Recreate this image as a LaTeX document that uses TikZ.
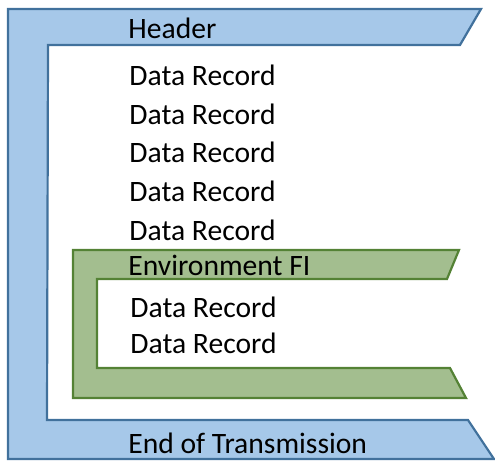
\documentclass[tikz,border=0pt]{standalone}
\usepackage{fontspec}
\setmainfont{Carlito}
\usetikzlibrary{positioning}

\definecolor{framefill}{RGB}{166,200,233}
\definecolor{framedraw}{RGB}{65,113,156}
\definecolor{envfill}{RGB}{163,190,143}
\definecolor{envdraw}{RGB}{84,130,53}

\tikzset{
	transframe/.style={fill=framefill, draw=framedraw, line width=1.1pt, line join=miter},
	envframe/.style={fill=envfill, draw=envdraw, line width=1.1pt, line join=miter},
	rectext/.style={anchor=base west, inner sep=0pt, font=\fontsize{14.8}{17}\selectfont}
}

\begin{document}
\begin{tikzpicture}[x=0.5pt, y=-0.5pt]

\useasboundingbox (0,0) rectangle (495,462);

%Coordinates (transmission)
\coordinate (T1) at (8,9);
\coordinate (T2) at (481,9);
\coordinate (T3) at (460,45);
\coordinate (T4) at (48,45);
\coordinate (T5) at (47,420);
\coordinate (T6) at (468,420);
\coordinate (T7) at (494,459);
\coordinate (T8) at (8,459);

%Coordinates (environment)
\coordinate (E1) at (73,250);
\coordinate (E2) at (459,250);
\coordinate (E3) at (447,279);
\coordinate (E4) at (97,279);
\coordinate (E5) at (97,368);
\coordinate (E6) at (450,368);
\coordinate (E7) at (466,398);
\coordinate (E8) at (73,398);

%Frames
\draw[transframe] (T1) -- (T2) -- (T3) -- (T4) -- (T5) -- (T6) -- (T7) -- (T8) -- cycle;
\draw[envframe] (E1) -- (E2) -- (E3) -- (E4) -- (E5) -- (E6) -- (E7) -- (E8) -- cycle;

% Nodes
\node[rectext] (header) at (128,38) {Header};

\foreach \y [count=\i] in {85,124,162,201,240}
{
	\node[rectext] (rec\i) at (129,\y) {Data Record};
}

\node[rectext] (env) at (128,275) {Environment FI};

\foreach \y [count=\i from 6] in {317,353}
{
	\node[rectext] (rec\i) at (130,\y) {Data Record};
}

\node[rectext] (eot) at (128,453) {End of Transmission};

\end{tikzpicture}
\end{document}
